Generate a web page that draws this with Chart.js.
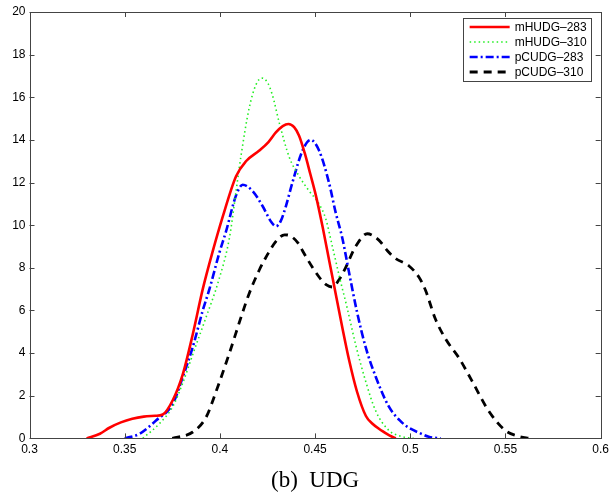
<!DOCTYPE html>
<html>
<head>
<meta charset="utf-8">
<script src="https://cdn.jsdelivr.net/npm/chart.js@4/dist/chart.umd.min.js"></script>
<style>
  html, body { margin: 0; padding: 0; background: #fff; }
  #wrap { width: 613px; height: 501px; }
</style>
</head>
<body>
<div id="wrap"><canvas id="kde"></canvas></div>
<script>
// Density curves of the four UDG runs.
const X_TICKS = [0.3, 0.35, 0.4, 0.45, 0.5, 0.55, 0.6];
const Y_TICKS = [0, 2, 4, 6, 8, 10, 12, 14, 16, 18, 20];

const mHUDG283_x = [0.330, 0.337, 0.342, 0.348, 0.354, 0.360, 0.366, 0.370, 0.3753, 0.3805, 0.3858, 0.391, 0.396, 0.4015, 0.4085, 0.4137, 0.4207, 0.4255, 0.4294, 0.4330, 0.4360, 0.4390, 0.4416, 0.4445, 0.4475, 0.4504, 0.4540, 0.4575, 0.4610, 0.4643, 0.4678, 0.4720, 0.4767, 0.4800, 0.4852, 0.4890, 0.4924];
const mHUDG283_y = [0, 0.22, 0.5, 0.75, 0.92, 1.02, 1.06, 1.12, 1.8, 3.0, 4.9, 7.0, 8.7, 10.4, 12.3, 13.0, 13.5, 13.9, 14.35, 14.65, 14.75, 14.6, 14.2, 13.4, 12.4, 11.4, 9.9, 8.3, 6.7, 5.2, 3.7, 2.2, 1.05, 0.7, 0.35, 0.14, 0];

const mHUDG310_x = [0.3595, 0.3683, 0.3753, 0.3805, 0.3860, 0.3928, 0.3990, 0.4050, 0.4085, 0.4110, 0.4154, 0.4190, 0.4220, 0.4250, 0.4276, 0.4312, 0.4364, 0.4416, 0.4469, 0.4521, 0.4556, 0.4591, 0.4630, 0.4669, 0.4713, 0.4765, 0.4818, 0.4887, 0.4950, 0.5018];
const mHUDG310_y = [0, 0.7, 1.5, 2.6, 4.0, 5.7, 7.3, 9.4, 11.6, 13.2, 15.5, 16.6, 16.9, 16.7, 16.1, 14.8, 13.2, 12.3, 11.6, 11.0, 10.3, 9.0, 7.5, 6.1, 4.4, 2.7, 1.3, 0.38, 0.1, 0];

const pCUDG283_x = [0.350, 0.3579, 0.3666, 0.3753, 0.3805, 0.3858, 0.391, 0.3945, 0.3997, 0.4032, 0.4085, 0.412, 0.4172, 0.4224, 0.4270, 0.4295, 0.4320, 0.4347, 0.4381, 0.4434, 0.4477, 0.4521, 0.4573, 0.4608, 0.4643, 0.4678, 0.4721, 0.4765, 0.4818, 0.4887, 0.4950, 0.4992, 0.5050, 0.5097, 0.5160];
const pCUDG283_y = [0, 0.22, 0.85, 1.63, 2.88, 4.3, 6.0, 7.0, 8.7, 9.7, 11.4, 11.9, 11.6, 10.9, 10.15, 9.95, 10.2, 10.9, 12.0, 13.5, 14.0, 13.5, 12.0, 10.6, 9.4, 7.8, 5.9, 4.3, 2.9, 1.5, 0.8, 0.5, 0.25, 0.08, 0];

const pCUDG310_x = [0.375, 0.3858, 0.3928, 0.398, 0.405, 0.4119, 0.4154, 0.4207, 0.4242, 0.4300, 0.4340, 0.4370, 0.4416, 0.4434, 0.4521, 0.4560, 0.4591, 0.4630, 0.4660, 0.4713, 0.4774, 0.4835, 0.4880, 0.4922, 0.4992, 0.5045, 0.5080, 0.5132, 0.5190, 0.5254, 0.5324, 0.5411, 0.5498, 0.5568, 0.5630];
const pCUDG310_y = [0, 0.3, 1.0, 2.2, 4.0, 5.9, 6.8, 7.9, 8.5, 9.3, 9.55, 9.5, 9.1, 8.8, 7.57, 7.2, 7.1, 7.5, 8.0, 9.0, 9.6, 9.3, 8.8, 8.44, 8.1, 7.57, 6.95, 5.6, 4.6, 3.8, 2.7, 1.3, 0.38, 0.1, 0];

const AXIS_COLOR = '#444';
const TICK_LEN = 5;
const LABEL_FONT = "'Liberation Sans', Arial, sans-serif";

const pts = (xs, ys) => xs.map((x, i) => ({ x, y: ys[i] }));

function curve(label, xs, ys, color, width, dash) {
  return {
    label,
    data: pts(xs, ys),
    borderColor: color,
    backgroundColor: color,
    borderWidth: width,
    borderDash: dash,
    borderCapStyle: 'butt',
    cubicInterpolationMode: 'monotone',
    pointRadius: 0,
    fill: false,
  };
}

// MATLAB-style box with inward ticks on all four sides
const frameTicks = {
  id: 'frameTicks',
  afterDatasetsDraw(chart) {
    const { ctx, chartArea: a, scales: { x, y } } = chart;
    ctx.save();
    ctx.strokeStyle = AXIS_COLOR;
    ctx.lineWidth = 1;
    ctx.setLineDash([]);
    ctx.strokeRect(Math.round(a.left) + 0.5, Math.round(a.top) + 0.5,
      Math.round(a.width), Math.round(a.height));
    ctx.beginPath();
    x.ticks.forEach((t) => {
      const px = Math.round(x.getPixelForValue(t.value)) + 0.5;
      ctx.moveTo(px, a.bottom); ctx.lineTo(px, a.bottom - TICK_LEN);
      ctx.moveTo(px, a.top); ctx.lineTo(px, a.top + TICK_LEN);
    });
    y.ticks.forEach((t) => {
      const py = Math.round(y.getPixelForValue(t.value)) + 0.5;
      ctx.moveTo(a.left, py); ctx.lineTo(a.left + TICK_LEN, py);
      ctx.moveTo(a.right, py); ctx.lineTo(a.right - TICK_LEN, py);
    });
    ctx.stroke();
    ctx.restore();
  },
};

// boxed legend in the upper right corner of the axes
const boxLegend = {
  id: 'boxLegend',
  afterDraw(chart) {
    const { ctx, chartArea: a } = chart;
    const sets = chart.data.datasets;
    const right = a.right - 10, top = a.top + 6;
    const w = 128, rowH = 15, h = sets.length * rowH + 3;
    const left = right - w;
    ctx.save();
    ctx.fillStyle = '#fff';
    ctx.fillRect(left, top, w, h);
    ctx.strokeStyle = AXIS_COLOR;
    ctx.lineWidth = 1;
    ctx.strokeRect(Math.round(left) + 0.5, Math.round(top) + 0.5, w, h);
    ctx.font = '12px ' + LABEL_FONT;
    ctx.textBaseline = 'middle';
    sets.forEach((ds, i) => {
      const cy = top + 9 + i * rowH;
      ctx.beginPath();
      ctx.strokeStyle = ds.borderColor;
      ctx.lineWidth = ds.borderWidth;
      ctx.setLineDash(ds.borderDash || []);
      ctx.moveTo(left + 7, cy);
      ctx.lineTo(left + 47, cy);
      ctx.stroke();
      ctx.fillStyle = '#000';
      ctx.fillText(ds.label, left + 52, cy + 0.5);
    });
    ctx.restore();
  },
};

new Chart(document.getElementById('kde'), {
  type: 'line',
  data: {
    datasets: [
      curve('mHUDG\u2013283', mHUDG283_x, mHUDG283_y, '#ff0000', 2.6, []),
      curve('mHUDG\u2013310', mHUDG310_x, mHUDG310_y, '#22ee22', 1.6, [1.5, 3]),
      curve('pCUDG\u2013283', pCUDG283_x, pCUDG283_y, '#0000ff', 2.6, [8, 3, 2, 3]),
      curve('pCUDG\u2013310', pCUDG310_x, pCUDG310_y, '#000000', 2.8, [8, 6]),
    ],
  },
  options: {
    responsive: true,
    maintainAspectRatio: false,
    animation: false,
    layout: { padding: { left: 0, right: 11, top: 12, bottom: 6 } },
    scales: {
      x: {
        type: 'linear',
        min: 0.3,
        max: 0.6,
        afterBuildTicks: (s) => { s.ticks = X_TICKS.map((v) => ({ value: v })); },
        afterFit: (s) => { s.height = 29; },
        grid: { display: false, drawTicks: false },
        border: { display: false },
        ticks: {
          color: '#000',
          padding: 4,
          maxRotation: 0,
          autoSkip: false,
          font: { family: LABEL_FONT, size: 12 },
          callback: (v) => String(+v.toFixed(2)),
        },
      },
      y: {
        type: 'linear',
        min: 0,
        max: 20,
        afterBuildTicks: (s) => { s.ticks = Y_TICKS.map((v) => ({ value: v })); },
        afterFit: (s) => { s.width = 29.5; },
        grid: { display: false, drawTicks: false },
        border: { display: false },
        ticks: {
          color: '#000',
          padding: 4,
          autoSkip: false,
          font: { family: LABEL_FONT, size: 12 },
        },
      },
    },
    plugins: {
      legend: { display: false },
      tooltip: { enabled: false },
      title: {
        display: true,
        position: 'bottom',
        fullSize: false,
        text: '(b)  UDG',
        color: '#000',
        padding: 0,
        font: { family: "'Liberation Serif', 'Times New Roman', serif", size: 23, weight: 'normal', lineHeight: 1.2 },
      },
    },
  },
  plugins: [frameTicks, boxLegend],
});
</script>
</body>
</html>
